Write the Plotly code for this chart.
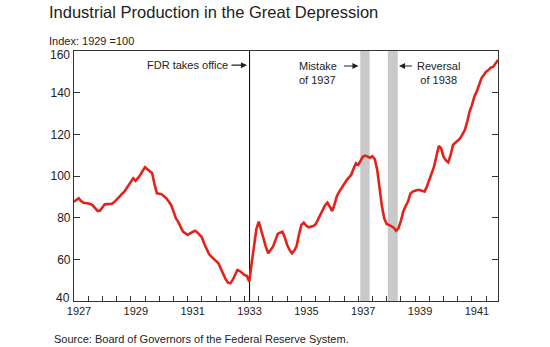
import plotly.graph_objects as go

# Monthly industrial production index (1929 = 100), Jan 1927 .. Dec 1941
years = list(range(1927, 1942))
ip_1927 = [87.7, 88.5, 89.3, 88.0, 87.2, 87.0, 86.8, 86.6, 85.8, 84.5, 83.2, 83.4]
ip_1928 = [85.0, 86.4, 86.5, 86.6, 86.7, 87.5, 88.5, 89.8, 91.2, 92.2, 93.8, 95.7]
ip_1929 = [97.2, 98.9, 97.7, 99.0, 100.5, 102.5, 104.2, 103.2, 102.0, 101.3, 96.0, 91.7]
ip_1930 = [91.5, 91.2, 90.3, 89.3, 87.8, 86.1, 83.0, 79.7, 78.0, 76.0, 73.3, 72.5]
ip_1931 = [71.7, 72.5, 73.2, 73.7, 73.0, 71.5, 70.5, 67.5, 64.5, 62.5, 61.3, 60.3]
ip_1932 = [59.2, 58.1, 55.5, 52.5, 50.5, 48.8, 48.5, 50.1, 52.8, 54.9, 54.4, 53.2]
ip_1933 = [52.5, 52.0, 49.3, 58.0, 67.7, 74.5, 78.1, 74.0, 69.5, 66.0, 62.9, 64.5]
ip_1934 = [66.1, 69.0, 72.2, 72.8, 73.3, 70.5, 66.9, 64.5, 62.9, 64.2, 66.4, 72.0]
ip_1935 = [76.5, 77.6, 76.2, 75.4, 75.6, 76.0, 76.8, 79.0, 81.8, 83.8, 86.0, 87.2]
ip_1936 = [85.5, 83.2, 86.5, 90.4, 92.5, 94.5, 96.5, 97.8, 99.2, 100.5, 103.5, 106.1]
ip_1937 = [105.3, 107.5, 109.3, 109.8, 109.3, 108.8, 109.5, 108.0, 103.0, 94.0, 85.5, 79.5]
ip_1938 = [77.0, 76.5, 76.0, 75.2, 73.7, 75.0, 78.5, 82.9, 85.5, 87.7, 91.5, 92.5]
ip_1939 = [92.9, 93.3, 93.3, 93.0, 92.5, 95.0, 98.1, 100.5, 104.5, 109.5, 114.4, 113.3]
ip_1940 = [109.3, 107.5, 106.6, 110.1, 114.9, 116.0, 117.0, 118.0, 120.0, 122.1, 126.0, 130.9]
ip_1941 = [134.0, 138.1, 140.5, 143.5, 146.9, 148.5, 150.1, 150.9, 152.0, 152.5, 154.1, 155.7]

yearly = [ip_1927, ip_1928, ip_1929, ip_1930, ip_1931, ip_1932, ip_1933, ip_1934,
          ip_1935, ip_1936, ip_1937, ip_1938, ip_1939, ip_1940, ip_1941]

dates = []
values = []
for y, vals in zip(years, yearly):
    for m, v in enumerate(vals):
        dates.append(y + m / 12.0)
        values.append(v)

tick_labels = ["1927", "1929", "1931", "1933", "1935", "1937", "1939", "1941"]
y_ticks = [40, 60, 80, 100, 120, 140, 160]
y_ticktext = ["", "60", "80", "100", "120", "140", ""]

fdr_date = 1933.175
band_1937 = [1937.07, 1937.40]
band_1938 = [1938.04, 1938.39]

FONT = "Liberation Sans, Arial, sans-serif"
TXT = "#222222"

tickvals = [1927 + 0.5 * i for i in range(30)]
ticktext = []
for t in tickvals:
    lab = str(int(t)) if abs(t - round(t)) < 1e-9 else ""
    ticktext.append(lab if lab in tick_labels else "")

fig = go.Figure()
fig.add_trace(go.Scatter(x=dates, y=values, mode="lines",
                         line=dict(color="#e3231b", width=2.6),
                         hoverinfo="skip", showlegend=False))

shapes = [
    dict(type="rect", xref="x", yref="y", x0=band_1937[0], x1=band_1937[1], y0=40, y1=160,
         fillcolor="#c9c9c9", line=dict(width=0), layer="below"),
    dict(type="rect", xref="x", yref="y", x0=band_1938[0], x1=band_1938[1], y0=40, y1=160,
         fillcolor="#c9c9c9", line=dict(width=0), layer="below"),
    dict(type="line", xref="x", yref="y", x0=fdr_date, x1=fdr_date, y0=40, y1=160,
         line=dict(color="#111111", width=1.1), layer="below"),
]

pxyr = 424 / (1941 + 11 / 12 - 1927)


def xpx(p):
    return 1927 + (p - 74) / pxyr


annotations = [
    dict(text="Industrial Production in the Great Depression", xref="paper", yref="paper",
         x=(47 - 74) / 424, y=1 + (51 - 11.5) / 250, xanchor="left", yanchor="middle",
         showarrow=False, font=dict(family=FONT, size=16.5, color=TXT)),
    dict(text="Index: 1929 =100", xref="paper", yref="paper",
         x=(47 - 74) / 424, y=1 + (51 - 40.7) / 250, xanchor="left", yanchor="middle",
         showarrow=False, font=dict(family=FONT, size=11, color=TXT)),
    dict(text="160", xref="paper", yref="y", x=(71.5 - 74) / 424, y=158.0,
         xanchor="right", yanchor="middle", showarrow=False,
         font=dict(family=FONT, size=12, color=TXT)),
    dict(text="40", xref="paper", yref="y", x=(71.5 - 74) / 424, y=41.5,
         xanchor="right", yanchor="middle", showarrow=False,
         font=dict(family=FONT, size=12, color=TXT)),
    dict(text="Source: Board of Governors of the Federal Reserve System.", xref="paper", yref="paper",
         x=(52 - 74) / 424, y=(301 - 339) / 250, xanchor="left", yanchor="middle",
         showarrow=False, font=dict(family=FONT, size=11, color=TXT)),
    dict(text="FDR takes office", xref="x", yref="y", x=xpx(230), y=153.2,
         xanchor="right", yanchor="middle", showarrow=False,
         font=dict(family=FONT, size=11, color=TXT)),
    dict(text="", xref="x", yref="y", x=xpx(247), y=153.2, axref="x", ayref="y",
         ax=xpx(230), ay=153.2, showarrow=True, arrowhead=2, arrowsize=1.1,
         arrowwidth=1.1, arrowcolor="#222222"),
    dict(text="Mistake<br>of 1937", xref="x", yref="y", x=xpx(297), y=149.6,
         xanchor="left", yanchor="middle", align="left", showarrow=False,
         font=dict(family=FONT, size=11, color=TXT)),
    dict(text="", xref="x", yref="y", x=xpx(358.5), y=152.8, axref="x", ayref="y",
         ax=xpx(342.5), ay=152.8, showarrow=True, arrowhead=2, arrowsize=1.1,
         arrowwidth=1.1, arrowcolor="#222222"),
    dict(text="Reversal<br>of 1938", xref="x", yref="y", x=xpx(438.7), y=149.6,
         xanchor="center", yanchor="middle", align="center", showarrow=False,
         font=dict(family=FONT, size=11, color=TXT)),
    dict(text="", xref="x", yref="y", x=xpx(399), y=152.8, axref="x", ayref="y",
         ax=xpx(413.5), ay=152.8, showarrow=True, arrowhead=2, arrowsize=1.1,
         arrowwidth=1.1, arrowcolor="#222222"),
]

fig.update_layout(
    width=550, height=347,
    margin=dict(l=74, r=52, t=51, b=46, pad=0),
    paper_bgcolor="white", plot_bgcolor="white",
    font=dict(family=FONT, size=11, color=TXT),
    shapes=shapes, annotations=annotations, showlegend=False,
    xaxis=dict(range=[1927, 1941 + 11 / 12], tickmode="array", tickvals=tickvals,
               ticktext=ticktext, ticks="inside", ticklen=5, tickwidth=1, tickcolor="#333333",
               showline=True, linecolor="#333333", linewidth=1.2, mirror=True,
               showgrid=False, zeroline=False, ticklabelshift=5,
               tickfont=dict(family=FONT, size=11, color=TXT)),
    yaxis=dict(range=[40, 160], tickmode="array", tickvals=y_ticks, ticktext=y_ticktext,
               ticks="inside", ticklen=6, tickwidth=1, tickcolor="#333333",
               showline=True, linecolor="#333333", linewidth=1.2, mirror="ticks",
               showgrid=False, zeroline=False,
               tickfont=dict(family=FONT, size=12, color=TXT)),
)

fig.write_html("out.html")
